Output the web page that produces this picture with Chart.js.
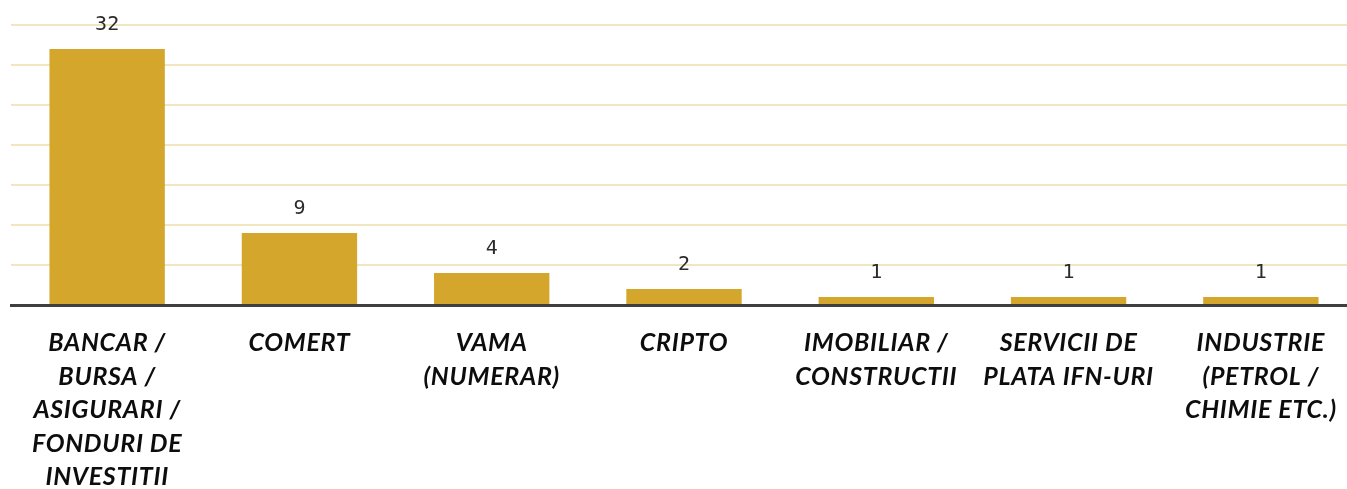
<!DOCTYPE html>
<html>
<head>
<meta charset="utf-8">
<script src="https://cdn.jsdelivr.net/npm/chart.js@4"></script>
<style>
html,body{margin:0;padding:0;background:#fff;overflow:hidden;}
#wrap{width:1357px;height:489px;position:relative;}
</style>
</head>
<body>
<div id="wrap"><canvas id="c"></canvas></div>
<script>
const categories = [
  ["BANCAR /","BURSA /","ASIGURARI /","FONDURI DE","INVESTITII"],
  ["COMERT"],
  ["VAMA","(NUMERAR)"],
  ["CRIPTO"],
  ["IMOBILIAR /","CONSTRUCTII"],
  ["SERVICII DE","PLATA IFN-URI"],
  ["INDUSTRIE","(PETROL /","CHIMIE ETC.)"]
];
const values = [32, 9, 4, 2, 1, 1, 1];
const yTicks = [0, 5, 10, 15, 20, 25, 30, 35];

const spacing = {
  id: 'spacing',
  beforeDraw(chart) { chart.ctx.letterSpacing = '0.7px'; }
};

const valueLabels = {
  id: 'valueLabels',
  afterDatasetsDraw(chart) {
    const ctx = chart.ctx;
    const meta = chart.getDatasetMeta(0);
    ctx.save();
    ctx.letterSpacing = '0px';
    ctx.fillStyle = '#2b2b2b';
    ctx.font = '20px "DejaVu Sans Mono"';
    ctx.textAlign = 'center';
    ctx.textBaseline = 'middle';
    meta.data.forEach((bar, i) => {
      ctx.fillText(String(values[i]), bar.x, bar.y - 24);
    });
    ctx.restore();
  }
};

new Chart(document.getElementById('c'), {
  type: 'bar',
  data: {
    labels: categories,
    datasets: [{
      data: values,
      backgroundColor: '#D4A72C',
      barPercentage: 0.6,
      categoryPercentage: 1.0
    }]
  },
  options: {
    responsive: true,
    maintainAspectRatio: false,
    animation: false,
    layout: { padding: { top: 25, left: 11, right: 0, bottom: 0 } },
    plugins: { legend: { display: false }, tooltip: { enabled: false } },
    scales: {
      x: {
        grid: { display: false },
        border: { display: true, color: '#3f3f3f', width: 3 },
        ticks: {
          color: '#0d0d0d',
          padding: 13,
          maxRotation: 0,
          autoSkip: false,
          font: { family: 'Lato', size: 25, weight: 'bold', style: 'italic', lineHeight: 1.345 }
        },
        afterFit(scale) { scale.height = 184; }
      },
      y: {
        min: 0, max: 35,
        afterBuildTicks(scale) { scale.ticks = yTicks.map(v => ({ value: v })); },
        ticks: { display: false },
        border: { display: false },
        grid: { color: '#F1E6BF', lineWidth: 2, drawTicks: false },
        afterFit(scale) { scale.width = 0; }
      }
    }
  },
  plugins: [spacing, valueLabels]
});
</script>
</body>
</html>
